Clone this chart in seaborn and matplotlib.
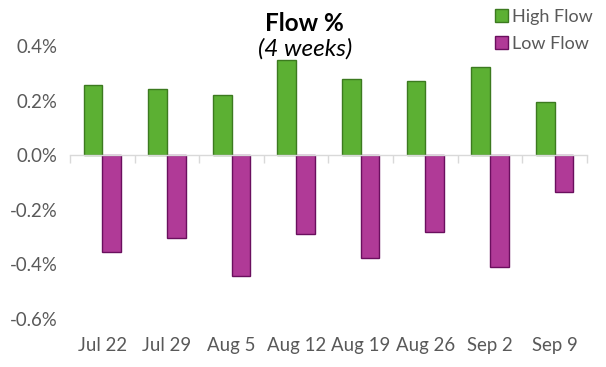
import matplotlib
matplotlib.use("Agg")
import matplotlib.pyplot as plt
import seaborn as sns
import pandas as pd
from matplotlib.ticker import FuncFormatter, FixedLocator
from matplotlib.patches import Patch

weeks = ["Jul 22", "Jul 29", "Aug 5", "Aug 12", "Aug 19", "Aug 26", "Sep 2", "Sep 9"]
high_flow = [0.256, 0.241, 0.219, 0.347, 0.278, 0.271, 0.322, 0.194]
low_flow = [-0.355, -0.305, -0.444, -0.290, -0.375, -0.283, -0.411, -0.133]
series = ["High Flow", "Low Flow"]
yticks = [-0.6, -0.4, -0.2, 0.0, 0.2, 0.4]

df = pd.DataFrame({
    "week": weeks * 2,
    "value": high_flow + low_flow,
    "series": [series[0]] * len(weeks) + [series[1]] * len(weeks),
})

sns.set_theme(style="white")
plt.rcParams["font.family"] = ["Lato", "DejaVu Sans"]

fill = {"High Flow": "#5CB033", "Low Flow": "#B03A97"}
edge = {"High Flow": "#3C7A1F", "Low Flow": "#6A0F5E"}

fig = plt.figure(figsize=(6.06, 3.67), dpi=100)
ax = fig.add_axes([0.1155, 0.1308, 0.853, 0.7439])

sns.barplot(data=df, x="week", y="value", hue="series", order=weeks,
            hue_order=series, palette=fill, width=0.58, ax=ax,
            saturation=1, legend=False)

for cont, s in zip(ax.containers, series):
    for p in cont:
        p.set_edgecolor(edge[s])
        p.set_linewidth(1.0)

ax.set_ylim(-0.6, 0.4)
ax.set_xlim(-0.5, len(weeks) - 0.5)
ax.set_yticks(yticks)
ax.yaxis.set_major_formatter(FuncFormatter(lambda v, p: f"{v:.1f}%"))
ax.set_xlabel("")
ax.set_ylabel("")

for s in ["left", "right", "bottom"]:
    ax.spines[s].set_visible(False)
ax.spines["top"].set_position(("data", 0))
ax.spines["top"].set_color("#D9D9D9")
ax.spines["top"].set_linewidth(1.0)

ax.xaxis.set_minor_locator(FixedLocator([i + 0.5 for i in range(-1, len(weeks))]))
ax.tick_params(axis="x", which="major", bottom=False, top=False, length=0,
               labelsize=13.4, colors="#595959", pad=13)
ax.tick_params(axis="x", which="minor", bottom=False, top=True, direction="in",
               length=6, width=1.0, color="#D9D9D9")
ax.tick_params(axis="y", left=False, labelsize=13.4, colors="#595959", pad=3)
for lbl in ax.get_xticklabels() + ax.get_yticklabels():
    lbl.set_color("#595959")

fig.text(0.503, 0.935, "Flow %", ha="center", va="center", fontsize=17.5,
         fontweight="bold", color="black")
fig.text(0.503, 0.866, "(4 weeks)", ha="center", va="center", fontsize=17.5,
         fontstyle="italic", color="black")

handles = [Patch(facecolor=fill[s], edgecolor=edge[s], linewidth=1.0) for s in series]
fig.legend(handles, series, loc="upper right", bbox_to_anchor=(1.005, 1.02),
           frameon=False, fontsize=13, handlelength=0.7, handleheight=0.7,
           handletextpad=0.25, labelspacing=0.6, labelcolor="#595959")

fig.savefig("out.png", dpi=100)
